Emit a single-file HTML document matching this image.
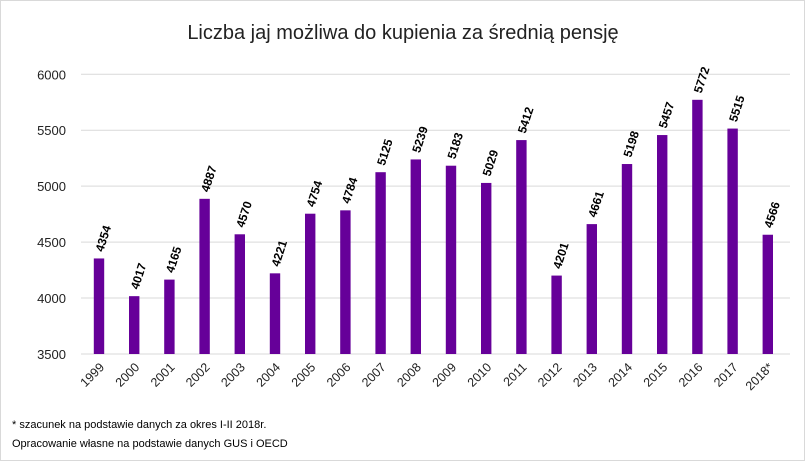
<!DOCTYPE html>
<html><head><meta charset="utf-8">
<style>
body{margin:0;background:#fff}
#wrap{position:relative;width:805px;height:461px;overflow:hidden;font-family:"Liberation Sans",sans-serif}
.frame{position:absolute;left:0;top:0;width:803px;height:459px;border:1px solid #d9d9d9}
</style></head><body>
<div id="wrap">
<div class="frame"></div>
<svg id="chart" width="805" height="461" style="position:absolute;left:0;top:0">
<text x="403" y="39" text-anchor="middle" font-size="20" fill="#222">Liczba jaj możliwa do kupienia za średnią pensję</text>
<text x="12" y="428" font-size="11" fill="#000">* szacunek na podstawie danych za okres I-II 2018r.</text>
<text x="12" y="447" font-size="11" fill="#000">Opracowanie własne na podstawie danych GUS i OECD</text>
</svg>
</div>
<script>
const categories=["1999","2000","2001","2002","2003","2004","2005","2006","2007","2008","2009","2010","2011","2012","2013","2014","2015","2016","2017","2018*"];
const values=[4354,4017,4165,4887,4570,4221,4754,4784,5125,5239,5183,5029,5412,4201,4661,5198,5457,5772,5515,4566];
const yTicks=[3500,4000,4500,5000,5500,6000];
const svgEl=document.getElementById('chart');
const NS='http://www.w3.org/2000/svg';
const yMin=3500,yMax=6000,plotTop=74.3,plotBottom=354,plotLeft=81,plotRight=790;
const yScale=v=>plotBottom-(v-yMin)/(yMax-yMin)*(plotBottom-plotTop);
const x0=99,step=35.2;
const xScale=i=>x0+i*step;
function mk(t,a){const e=document.createElementNS(NS,t);for(const k in a)e.setAttribute(k,a[k]);svgEl.appendChild(e);return e;}
yTicks.forEach(t=>{
 const g=mk('line',{x1:plotLeft,x2:plotRight,y1:yScale(t),y2:yScale(t),stroke:'#d9d9d9','stroke-width':1});
 
 
 const l=mk('text',{x:66,y:yScale(t)+5,'text-anchor':'end','font-size':13,fill:'#222'});
 l.textContent=t;
 
 
});
categories.forEach((c,i)=>{
 const cx=xScale(i),v=values[i];
 const b=mk('rect',{x:cx-5.2,y:yScale(v),width:10.4,height:plotBottom-yScale(v),fill:'#660099'});
 
 
 const l=mk('text',{x:cx+6,y:plotBottom+14,'text-anchor':'end','font-size':12.5,fill:'#222',transform:`rotate(-45 ${cx+6} ${plotBottom+14})`});
 l.textContent=c;
 
 
 const vx=cx+4,vy=yScale(v)-6;
 const t=mk('text',{x:vx,y:vy,'font-size':12,'font-weight':'bold',fill:'#000',transform:`rotate(-72 ${vx} ${vy})`});
 t.textContent=v;
 
 
});
</script>
</body></html>
